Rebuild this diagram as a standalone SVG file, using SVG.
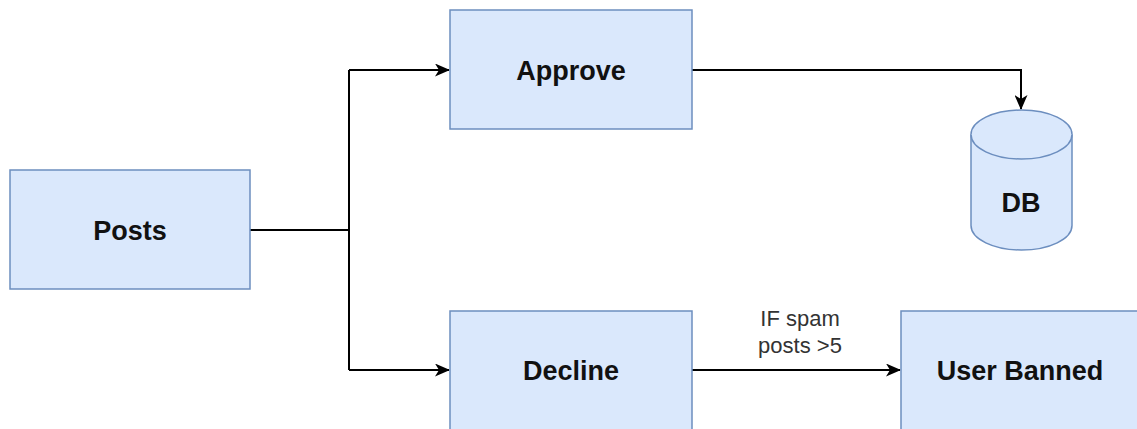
<svg xmlns="http://www.w3.org/2000/svg" width="1137" height="429" viewBox="0 0 1137 429">
  <style>
    .box { fill: #dae8fc; stroke: #6c8ebf; stroke-width: 1.5; }
    .lbl { font-family: "Liberation Sans", Arial, sans-serif; font-weight: bold; font-size: 27px; fill: #111; text-anchor: middle; }
    .edge { fill: none; stroke: #000; stroke-width: 2; }
    .elbl { font-family: "Liberation Sans", Arial, sans-serif; font-size: 22px; fill: #333; text-anchor: middle; }
  </style>
  <defs>
    <marker id="arrow" viewBox="0 0 15 13" refX="14" refY="6.5" markerWidth="15" markerHeight="13" markerUnits="userSpaceOnUse" orient="auto">
      <path d="M0,0 L15,6.5 L0,13 L4,6.5 Z" fill="#000"/>
    </marker>
  </defs>
  <rect width="1137" height="429" fill="#fff"/>

  <g id="connectors">
    <path class="edge" d="M250,230 H349"/>
    <path class="edge" d="M349,70 V370"/>
    <path class="edge" d="M349,70 H449" marker-end="url(#arrow)"/>
    <path class="edge" d="M349,370 H449" marker-end="url(#arrow)"/>
    <path class="edge" d="M692,70 H1021 V109" marker-end="url(#arrow)"/>
    <path class="edge" d="M692,370 H900" marker-end="url(#arrow)"/>
    <text class="elbl" x="800" y="326">IF spam</text>
    <text class="elbl" x="800" y="353">posts &gt;5</text>
  </g>

  <g id="posts">
    <rect class="box" x="10" y="170" width="240" height="119"/>
    <text class="lbl" x="130" y="240">Posts</text>
  </g>

  <g id="approve">
    <rect class="box" x="450" y="10" width="242" height="119"/>
    <text class="lbl" x="571" y="80">Approve</text>
  </g>

  <g id="decline">
    <rect class="box" x="450" y="311" width="242" height="119"/>
    <text class="lbl" x="571" y="380">Decline</text>
  </g>

  <g id="user-banned">
    <rect class="box" x="901" y="311" width="242" height="119"/>
    <text class="lbl" x="1020" y="380">User Banned</text>
  </g>

  <g id="db">
    <path class="box" d="M971,134.5 A50.5,24.5 0 0 1 1072,134.5 V225.5 A50.5,24.5 0 0 1 971,225.5 Z"/>
    <path class="box" fill="none" d="M971,134.5 A50.5,24.5 0 0 0 1072,134.5"/>
    <text class="lbl" x="1021" y="212">DB</text>
  </g>
</svg>
